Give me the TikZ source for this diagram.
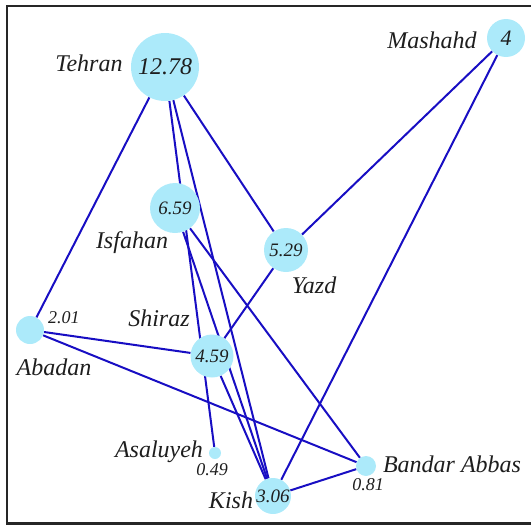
\documentclass[tikz,border=0pt]{standalone}
\usepackage{fontspec}
\setmainfont{Liberation Serif}
\usetikzlibrary{backgrounds}
\definecolor{nodefill}{RGB}{172,234,250}
\definecolor{edgeblue}{RGB}{24,14,195}
\definecolor{inkgray}{RGB}{30,30,30}
\begin{document}
\begin{tikzpicture}[x=1pt,y=-1pt,
  city/.style={circle,fill=nodefill,inner sep=0pt,text=inkgray,font=\itshape\fontsize{19}{19}\selectfont},
  cname/.style={inner sep=0pt,text=inkgray,font=\itshape\fontsize{24}{24}\selectfont},
  val/.style={inner sep=0pt,text=inkgray,font=\itshape\fontsize{18}{18}\selectfont},
  link/.style={edgeblue,line width=2pt}]
\useasboundingbox (0,0) rectangle (531,525);
\draw[line width=2.2pt,black!85] (7,6) rectangle (536,523.5);
% nodes
\node[city,minimum size=68pt,font=\itshape\fontsize{24}{24}\selectfont] (teh) at (165,67) {12.78};
\node[city,minimum size=38pt,font=\itshape\fontsize{22}{22}\selectfont] (mas) at (506,38) {4};
\node[city,minimum size=50pt] (isf) at (175,208) {6.59};
\node[city,minimum size=44pt] (yaz) at (286,250) {5.29};
\node[city,minimum size=28pt] (aba) at (30,330) {};
\node[city,minimum size=43pt] (shi) at (212,356) {4.59};
\node[city,minimum size=12pt] (asa) at (215,453) {};
\node[city,minimum size=36pt] (kis) at (273,496) {3.06};
\node[city,minimum size=20pt] (ban) at (366,466) {};
% labels
\node[cname] (lteh) at (89,63) {Tehran};
\node[cname] (lmas) at (432,40) {Mashahd};
\node[cname] (lisf) at (132,243) {Isfahan};
\node[cname] (lyaz) at (314,285) {Yazd};
\node[cname] (laba) at (54,367) {Abadan};
\node[val] (vaba) at (64,318) {2.01};
\node[cname] (lshi) at (159,318) {Shiraz};
\node[cname] (lasa) at (159,452) {Asaluyeh};
\node[val] (vasa) at (212,470) {0.49};
\node[cname] (lkis) at (231,500) {Kish};
\node[cname] (lban) at (452,464) {Bandar Abbas};
\node[val] (vban) at (368,485) {0.81};
% edges
\begin{scope}[on background layer]
\draw[link] (teh) -- (aba);
\draw[link] (teh) -- (asa);
\draw[link] (teh) -- (kis);
\draw[link] (teh) -- (yaz);
\draw[link] (mas) -- (yaz);
\draw[link] (mas) -- (kis);
\draw[link] (isf) -- (kis);
\draw[link] (isf) -- (ban);
\draw[link] (yaz) -- (shi);
\draw[link] (aba) -- (shi);
\draw[link] (aba) -- (ban);
\draw[link] (shi) -- (kis);
\draw[link] (kis) -- (ban);
\end{scope}
\end{tikzpicture}
\end{document}
